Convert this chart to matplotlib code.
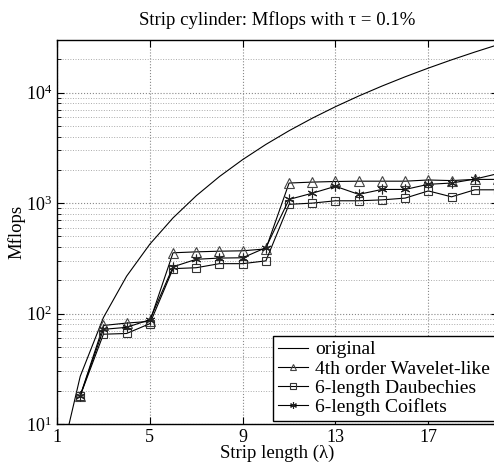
import matplotlib
matplotlib.use('Agg')
import matplotlib.pyplot as plt
from matplotlib.ticker import FixedLocator, LogLocator, NullFormatter

plt.rcParams['font.family'] = ['Liberation Serif', 'DejaVu Serif']
plt.rcParams['mathtext.fontset'] = 'stix'

# strip length
x_orig = list(range(1, 21))
x_mark = list(range(2, 21))

# Mflops
original = [3.4, 27, 92, 218, 425, 735, 1166, 1741, 2478, 3400,
            4525, 5875, 7470, 9330, 11475, 13926, 16700, 19830, 23320, 27200]
wavelet = [18, 78, 82, 85, 355, 362, 367, 370, 385, 1520,
           1550, 1570, 1580, 1580, 1580, 1620, 1600, 1640, 1640]
daub = [18, 65, 66, 81, 255, 260, 283, 283, 300, 975,
        1000, 1050, 1050, 1070, 1110, 1290, 1140, 1320, 1320]
coif = [18, 72, 75, 88, 265, 310, 318, 320, 395, 1080,
        1230, 1420, 1200, 1330, 1330, 1480, 1520, 1650, 1850]

xticks = [1, 5, 9, 13, 17]

fig = plt.figure(figsize=(4.94, 4.70), dpi=100)
ax = fig.add_axes([0.1154, 0.0979, 1.008 - 0.1154, 0.9149 - 0.0979])

ax.plot(x_orig, original, color='black', lw=0.8, label='original')
ax.plot(x_mark, wavelet, color='black', lw=0.8, marker='^', ms=7,
        mfc='none', mec='#444444', mew=0.8, label='4th order Wavelet-like')
ax.plot(x_mark, daub, color='black', lw=0.8, marker='s', ms=5.5,
        mfc='none', mec='#333333', mew=0.8, label='6-length Daubechies')
ax.plot(x_mark, coif, color='black', lw=0.8, marker=(6, 2, 0), ms=7,
        mec='#222222', mew=0.8, label='6-length Coiflets')

ax.set_yscale('log')
ax.set_xlim(1, 20)
ax.set_ylim(10, 30000)
ax.xaxis.set_major_locator(FixedLocator(xticks))
ax.set_xticklabels([str(t) for t in xticks])
ax.yaxis.set_major_locator(LogLocator(base=10, numticks=10))
ax.yaxis.set_minor_locator(LogLocator(base=10, subs=range(2, 10), numticks=20))
ax.yaxis.set_minor_formatter(NullFormatter())

ax.grid(True, which='major', linestyle=':', color='#888888', lw=0.8)
ax.grid(True, which='minor', axis='y', linestyle=':', color='#aaaaaa', lw=0.7)

ax.tick_params(which='both', direction='in', top=True, right=True, labelsize=13)
ax.tick_params(which='major', length=5)
ax.tick_params(which='minor', length=3)
for s in ax.spines.values():
    s.set_linewidth(1.0)

ax.set_title('Strip cylinder: Mflops with \u03c4 = 0.1%', fontsize=13.5, pad=11)
ax.set_xlabel('Strip length (\u03bb)', fontsize=13.5, labelpad=-1)
ax.set_ylabel('Mflops', fontsize=13.5, labelpad=0)

leg = ax.legend(loc='lower right', fontsize=14, fancybox=False, framealpha=1,
                edgecolor='black', borderaxespad=0.15, handlelength=1.5,
                handletextpad=0.4, borderpad=0.25, labelspacing=0.08,
                markerscale=0.7)
leg.get_frame().set_linewidth(1.0)

fig.savefig('out.png', dpi=100)
